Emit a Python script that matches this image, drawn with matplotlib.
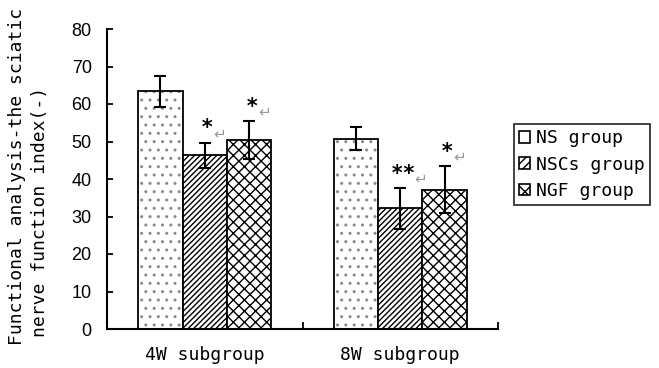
import matplotlib
matplotlib.use("Agg")
import matplotlib.pyplot as plt
import numpy as np

# data
subgroups = ["4W subgroup", "8W subgroup"]
groups = ["NS group", "NSCs group", "NGF group"]
ns_mean = [63.4, 50.8]
ns_err = [4.1, 3.0]
nscs_mean = [46.3, 32.2]
nscs_err = [3.4, 5.4]
ngf_mean = [50.4, 37.2]
ngf_err = [5.0, 6.3]
marks = [["", "*", "*"], ["", "**", "*"]]

plt.rcParams["hatch.linewidth"] = 1.0
mono = "DejaVu Sans Mono"

fig = plt.figure(figsize=(6.59, 3.68), dpi=100)
ax = fig.add_axes([107 / 659, 39 / 368, 391 / 659, 300 / 368])

x = np.arange(len(subgroups))
w = 0.227
means = [ns_mean, nscs_mean, ngf_mean]
errs = [ns_err, nscs_err, ngf_err]
hatches = ["..", "//////", "xxx"]
hatch_colors = ["#8a8a8a", "black", "black"]

bars = []
for i in range(3):
    # hatch fill first (its own colour), then a black outline with error bars on top
    ax.bar(x + (i - 1) * w, means[i], w, color="white",
           edgecolor=hatch_colors[i], linewidth=0, hatch=hatches[i])
    b = ax.bar(x + (i - 1) * w, means[i], w, yerr=errs[i], fill=False,
               edgecolor="black", linewidth=1.3,
               error_kw=dict(ecolor="black", elinewidth=1.5, capsize=4, capthick=1.5))
    bars.append(b)

# significance stars with the little grey return arrows
for j in range(len(subgroups)):
    for i in range(3):
        m = marks[j][i]
        if not m:
            continue
        top = means[i][j] + errs[i][j]
        ax.annotate(m, (x[j] + (i - 1) * w, top), xytext=(2, 3),
                    textcoords="offset points", ha="center", va="bottom",
                    fontsize=15, family=mono, fontweight="bold")
        ax.annotate("\u21b5", (x[j] + (i - 1) * w, top), xytext=(7 + 4 * len(m), 1),
                    textcoords="offset points", ha="center", va="bottom",
                    fontsize=11, color="#999999")

ax.set_xlim(-0.5, 1.5)
ax.set_ylim(0, 80)
ax.set_yticks(range(0, 81, 10))
ax.tick_params(axis="y", direction="in", length=4, width=1.3, pad=11,
               labelsize=13)
for lab in ax.get_yticklabels():
    lab.set_family("Liberation Sans")

ax.set_xticks(x)
ax.set_xticklabels(subgroups, family=mono, fontsize=13)
ax.tick_params(axis="x", length=0, pad=12)
ax.set_xticks([0.5, 1.5], minor=True)
ax.tick_params(axis="x", which="minor", direction="in", length=5, width=1.3)

for s in ["top", "right"]:
    ax.spines[s].set_visible(False)
for s in ["left", "bottom"]:
    ax.spines[s].set_linewidth(1.5)

fig.text(17 / 659, 1 - 345 / 368, "Functional analysis-the sciatic",
         rotation=90, ha="center", va="bottom", family=mono, fontsize=13)
fig.text(40 / 659, 1 - 337 / 368, "nerve function index(-)",
         rotation=90, ha="center", va="bottom", family=mono, fontsize=13)

# legend keys: small hatched squares
handles = [plt.Rectangle((0, 0), 1, 1, facecolor="white", edgecolor="black",
                         linewidth=1.2, hatch=h) for h in ["", "////", "xx"]]
leg = ax.legend(handles, groups, loc="upper left",
                bbox_to_anchor=(514 / 659, 1 - 124 / 368),
                bbox_transform=fig.transFigure, frameon=True, fancybox=False,
                edgecolor="black", handlelength=0.6, handleheight=0.6,
                handletextpad=0.3, borderpad=0.3, labelspacing=0.45,
                borderaxespad=0, prop=dict(family=mono, size=13))
leg.get_frame().set_linewidth(1.3)

fig.savefig("out.png", dpi=100)
